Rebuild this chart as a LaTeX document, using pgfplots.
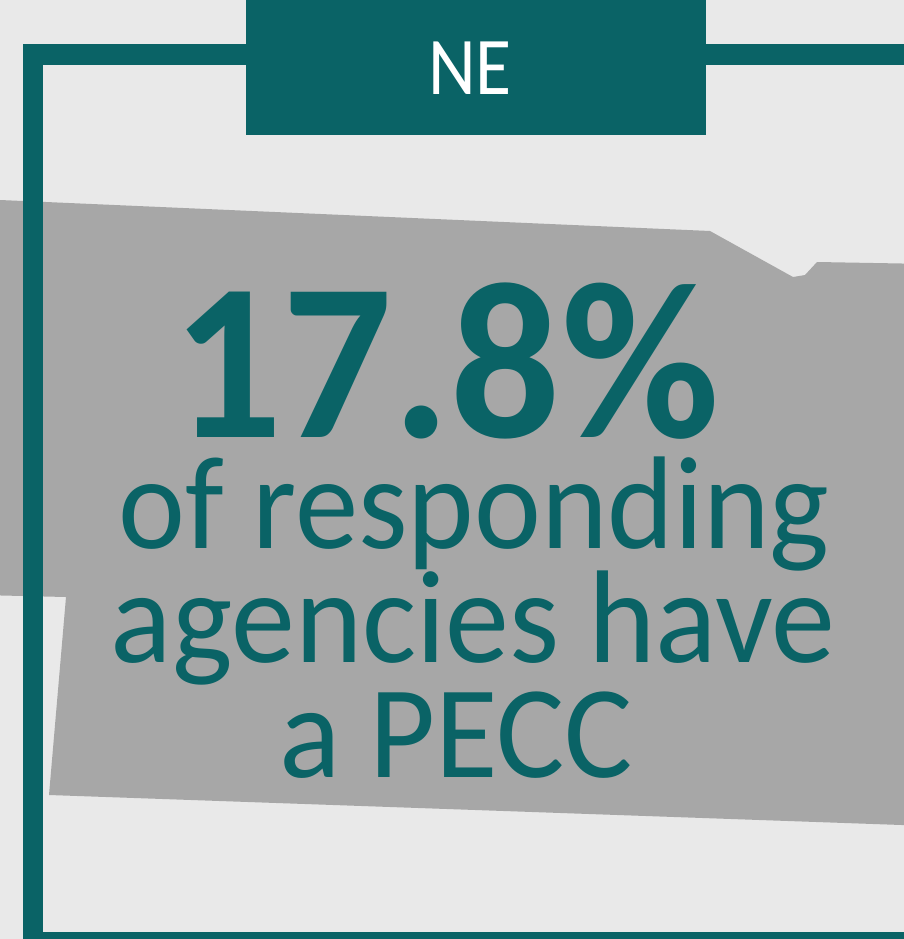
\documentclass[border=0pt]{standalone}
\usepackage{pgfplots}
\pgfplotsset{compat=1.18}
\usepackage{fontspec}
\setmainfont{Carlito}
\definecolor{teal}{RGB}{10,99,102}
\definecolor{paper}{RGB}{233,233,233}
\definecolor{state}{RGB}{167,167,167}

% Nebraska outline, in picture pixels (y runs downwards)
\pgfplotstableread{
x y
-20 199
0 200
710 231
793 277
805 275
817 262
930 264
930 826
49 795
66 597
-20 595
}\statetable

\begin{document}
\begin{tikzpicture}
\begin{axis}[
    x=1pt, y=1pt,
    xmin=0, xmax=904, ymin=0, ymax=939,
    y dir=reverse,
    scale only axis,
    hide axis,
    clip=true,
]
% paper
\addplot[fill=paper, draw=none] coordinates {(-10,-10) (920,-10) (920,950) (-10,950)} -- cycle;
% state shape
\addplot[fill=state, draw=none] table {\statetable} -- cycle;
% frame
\addplot[fill=teal, draw=none] coordinates {(23,44) (43,44) (43,960) (23,960)} -- cycle;
\addplot[fill=teal, draw=none] coordinates {(23,44) (930,44) (930,65) (23,65)} -- cycle;
\addplot[fill=teal, draw=none] coordinates {(23,932) (930,932) (930,960) (23,960)} -- cycle;
% header box
\addplot[fill=teal, draw=none] coordinates {(246,-10) (706,-10) (706,135) (246,135)} -- cycle;

\node[anchor=base, text=white, inner sep=0pt] at (axis cs:470,95)
  {\fontsize{82}{90}\selectfont\scalebox{0.9}[1]{NE}};
\node[anchor=base, text=teal, inner sep=0pt] at (axis cs:446,437)
  {\fontsize{224}{230}\selectfont\bfseries\scalebox{0.97}[1]{17.8\%}};
\node[anchor=base, text=teal, inner sep=0pt] at (axis cs:474,548)
  {\fontsize{132}{140}\selectfont\scalebox{0.96}[1]{of responding}};
\node[anchor=base, text=teal, inner sep=0pt] at (axis cs:473,662)
  {\fontsize{132}{140}\selectfont\scalebox{0.97}[1]{agencies have}};
\node[anchor=base, text=teal, inner sep=0pt] at (axis cs:456,777)
  {\fontsize{132}{140}\selectfont\scalebox{0.97}[1]{a PECC}};
\end{axis}
\end{tikzpicture}
\end{document}
